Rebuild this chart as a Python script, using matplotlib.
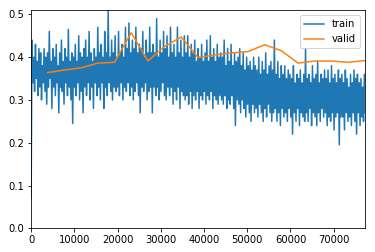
import numpy as np
import matplotlib
matplotlib.use('Agg')
import matplotlib.pyplot as plt

# train loss (one value per ~200 iterations)
train_loss = [
    0.07, 0.44, 0.34, 0.40, 0.32, 0.43, 0.35, 0.39, 0.31, 0.42, 0.33, 0.41, 0.30, 0.38, 0.34, 0.42, 0.32, 0.40, 0.29, 0.41,
    0.33, 0.46, 0.35, 0.39, 0.28, 0.42, 0.33, 0.40, 0.31, 0.43, 0.34, 0.38, 0.27, 0.41, 0.33, 0.44, 0.32, 0.39, 0.29, 0.42,
    0.34, 0.40, 0.31, 0.465, 0.33, 0.39, 0.30, 0.41, 0.245, 0.40, 0.33, 0.43, 0.31, 0.39, 0.34, 0.45, 0.30, 0.41, 0.32, 0.40,
    0.27, 0.42, 0.33, 0.44, 0.31, 0.40, 0.34, 0.46, 0.30, 0.41, 0.33, 0.39, 0.28, 0.42, 0.34, 0.40, 0.31, 0.47, 0.33, 0.41,
    0.30, 0.43, 0.34, 0.40, 0.28, 0.46, 0.33, 0.41, 0.31, 0.51, 0.34, 0.40, 0.32, 0.44, 0.30, 0.41, 0.33, 0.45, 0.32, 0.40,
    0.33, 0.46, 0.31, 0.41, 0.34, 0.43, 0.30, 0.40, 0.33, 0.47, 0.32, 0.42, 0.34, 0.48, 0.31, 0.41, 0.33, 0.44, 0.30, 0.42,
    0.32, 0.47, 0.34, 0.41, 0.31, 0.43, 0.27, 0.42, 0.33, 0.46, 0.32, 0.40, 0.34, 0.44, 0.30, 0.41, 0.32, 0.47, 0.33, 0.41,
    0.27, 0.43, 0.33, 0.41, 0.31, 0.49, 0.33, 0.40, 0.30, 0.44, 0.32, 0.41, 0.34, 0.46, 0.31, 0.42, 0.30, 0.45, 0.33, 0.40,
    0.31, 0.47, 0.33, 0.41, 0.29, 0.43, 0.32, 0.40, 0.30, 0.47, 0.33, 0.41, 0.28, 0.44, 0.32, 0.40, 0.31, 0.45, 0.30, 0.41,
    0.31, 0.45, 0.29, 0.40, 0.32, 0.43, 0.28, 0.41, 0.31, 0.44, 0.30, 0.39, 0.32, 0.42, 0.28, 0.40, 0.31, 0.43, 0.30, 0.39,
    0.32, 0.41, 0.29, 0.44, 0.31, 0.39, 0.30, 0.45, 0.32, 0.40, 0.28, 0.42, 0.31, 0.39, 0.30, 0.43, 0.29, 0.40, 0.31, 0.41,
    0.30, 0.40, 0.29, 0.44, 0.31, 0.38, 0.28, 0.42, 0.30, 0.39, 0.29, 0.43, 0.31, 0.38, 0.28, 0.41, 0.24, 0.39, 0.30, 0.40,
    0.29, 0.42, 0.27, 0.38, 0.30, 0.41, 0.28, 0.37, 0.26, 0.40, 0.29, 0.38, 0.27, 0.39, 0.25, 0.37, 0.29, 0.40, 0.27, 0.38,
    0.28, 0.37, 0.26, 0.40, 0.29, 0.36, 0.27, 0.39, 0.25, 0.37, 0.28, 0.41, 0.26, 0.36, 0.29, 0.38, 0.27, 0.39, 0.25, 0.37,
    0.27, 0.44, 0.28, 0.36, 0.25, 0.39, 0.27, 0.35, 0.24, 0.38, 0.28, 0.36, 0.26, 0.38, 0.27, 0.35, 0.25, 0.37, 0.28, 0.36,
    0.26, 0.35, 0.22, 0.38, 0.27, 0.34, 0.25, 0.36, 0.28, 0.35, 0.24, 0.37, 0.27, 0.34, 0.26, 0.36, 0.25, 0.42, 0.27, 0.35,
    0.25, 0.36, 0.28, 0.34, 0.24, 0.38, 0.27, 0.35, 0.26, 0.36, 0.24, 0.39, 0.27, 0.34, 0.25, 0.36, 0.28, 0.35, 0.26, 0.37,
    0.27, 0.35, 0.24, 0.37, 0.26, 0.34, 0.25, 0.38, 0.27, 0.35, 0.23, 0.36, 0.26, 0.34, 0.27, 0.37, 0.195, 0.35, 0.26, 0.36,
    0.26, 0.34, 0.23, 0.37, 0.27, 0.35, 0.25, 0.33, 0.26, 0.36, 0.24, 0.34, 0.27, 0.37, 0.25, 0.35, 0.22, 0.36, 0.27, 0.34,
    0.24, 0.35, 0.26, 0.33, 0.25, 0.36, 0.27,
]
n_iters = 77300

# validation loss at the end of each epoch
valid_iter = [3860, 7720, 11580, 15440, 19300, 23160, 27020, 30880, 34740, 38600,
              42460, 46320, 50180, 54040, 57900, 61760, 65620, 69480, 73340, 77200]
valid_loss = [0.364, 0.370, 0.375, 0.386, 0.388, 0.457, 0.391, 0.425, 0.447, 0.399,
              0.405, 0.410, 0.413, 0.429, 0.415, 0.386, 0.391, 0.391, 0.388, 0.392]

train_iter = np.linspace(0, n_iters, len(train_loss))

fig = plt.figure(figsize=(375/72, 252/72), dpi=72)
ax = fig.add_axes([0.083, 0.094, 0.891, 0.866])

ax.plot(train_iter, train_loss, label='train')
ax.plot(valid_iter, valid_loss, label='valid')

ax.set_xlim(0, n_iters)
ax.set_ylim(0, 0.51)
ax.legend(loc='upper right')

plt.savefig('out.png', dpi=72)
